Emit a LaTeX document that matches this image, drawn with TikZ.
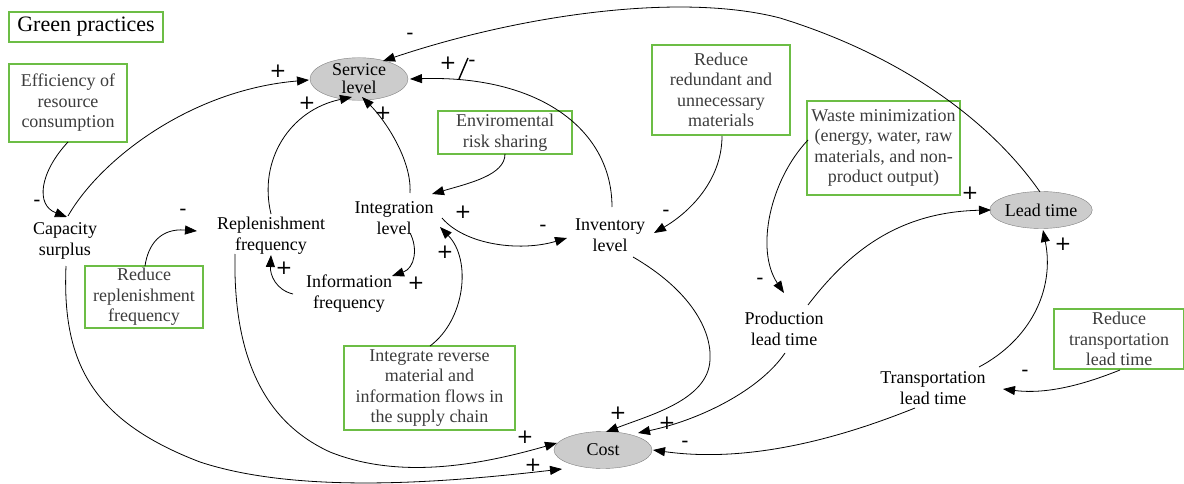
\documentclass[tikz,border=0pt]{standalone}
\usepackage{fontspec}
\setmainfont{Liberation Serif}
\newfontfamily\signfont{DejaVu Sans}
\usetikzlibrary{arrows.meta,shapes.geometric}
\definecolor{gboxc}{RGB}{108,189,69}
\definecolor{ellfill}{RGB}{204,204,204}
\definecolor{boxtext}{RGB}{60,60,60}
\tikzset{
  txt/.style={align=center,inner sep=0pt,font=\fontsize{18}{21}\selectfont},
  gbox/.style={draw=gboxc,line width=2.2pt,fill=white,align=center,inner sep=0pt,text=boxtext,font=\fontsize{18}{20.5}\selectfont},
  ell/.style={ellipse,draw=gray,fill=ellfill,inner sep=0pt,minimum width=98pt,minimum height=37pt,align=center,font=\fontsize{18}{21}\selectfont},
  link/.style={draw=black,line width=0.8pt,-{Triangle[length=12pt,width=9pt]}},
  sgn/.style={inner sep=0pt,font=\signfont\fontsize{20}{20}\selectfont}
}
\begin{document}
\begin{tikzpicture}[x=1pt,y=-1pt]
\useasboundingbox (0,0) rectangle (1184,484);
% boxes
\node[gbox,minimum width=154pt,minimum height=30pt,text=black,font=\fontsize{22}{22}\selectfont] (gp) at (86,27) {Green practices};
\node[gbox,minimum width=118pt,minimum height=78pt] (eff) at (68,103) {Efficiency of\\resource\\consumption};
\node[gbox,minimum width=118pt,minimum height=62pt] (rrep) at (144,297) {Reduce\\replenishment\\frequency};
\node[gbox,minimum width=134pt,minimum height=43pt] (env) at (505,132.5) {Enviromental\\risk sharing};
\node[gbox,minimum width=138pt,minimum height=90pt] (rred) at (721,90) {Reduce\\redundant and\\unnecessary\\materials};
\node[gbox,minimum width=153pt,minimum height=94pt] (waste) at (883.5,148) {Waste minimization\\(energy, water, raw\\materials, and non-\\product output)};
\node[gbox,minimum width=130pt,minimum height=60pt] (rtrans) at (1119,339) {Reduce\\transportation\\lead time};
\node[gbox,minimum width=171pt,minimum height=84pt] (irev) at (429.5,388) {Integrate reverse\\material and\\information flows in\\the supply chain};
% ellipses
\node[ell] (sl) at (359,79) {Service\\[-3pt]level};
\node[ell] (lt) at (1041,210) {Lead time};
\node[ell] (cost) at (603,450) {Cost};
% variables
\node[txt] (cap) at (65,241) {Capacity\\surplus};
\node[txt] (repf) at (271,236) {Replenishment\\frequency};
\node[txt] (intl) at (394,218) {Integration\\level};
\node[txt] (inff) at (349,294) {Information\\frequency};
\node[txt] (invl) at (610,235) {Inventory\\level};
\node[txt] (prodlt) at (784,329) {Production\\lead time};
\node[txt] (translt) at (933,388) {Transportation\\lead time};
% named end points
\coordinate (effS) at (68,142);
\coordinate (capT) at (67,217);
\coordinate (capT2) at (68,216);
\coordinate (capB) at (66,266);
\coordinate (slL) at (309,80);
\coordinate (slB1) at (352,97);
\coordinate (slB2) at (362,97);
\coordinate (slR) at (410,79);
\coordinate (slT) at (383,61);
\coordinate (rrepT) at (145,266);
\coordinate (repfL) at (197,231);
\coordinate (repfT) at (271,214);
\coordinate (repfB) at (235,254);
\coordinate (repfB2) at (271,255);
\coordinate (intlT) at (410,193);
\coordinate (intlR) at (432,194);
\coordinate (intlR2) at (442,218);
\coordinate (intlB) at (410,233);
\coordinate (intlB2) at (440,227);
\coordinate (envB) at (505,154);
\coordinate (invlL) at (567,238);
\coordinate (invlR) at (654,233);
\coordinate (invlT) at (612,207);
\coordinate (invlB) at (633,257);
\coordinate (inffR) at (392,276);
\coordinate (inffL) at (293,294);
\coordinate (irevT) at (430,346);
\coordinate (rredB) at (722,136);
\coordinate (ltT) at (1040,192);
\coordinate (ltL) at (991,210);
\coordinate (ltB) at (1043,230);
\coordinate (wasteL) at (808,140);
\coordinate (prodT) at (784,293);
\coordinate (prodR) at (808,305);
\coordinate (prodB) at (785,353);
\coordinate (transR) at (979,367);
\coordinate (transR2) at (1003,389);
\coordinate (transB) at (915,408);
\coordinate (rtransB) at (1120,370);
\coordinate (costL) at (557,443);
\coordinate (costBL) at (562,469);
\coordinate (costT) at (606,432);
\coordinate (costTR) at (638,433);
\coordinate (costR) at (653,450);
% links
\draw[link] (effS) .. controls (40,172) and (35,205) .. (capT);
\draw[link] (capT2) .. controls (100,160) and (190,90) .. (slL);
\draw[link] (rrepT) .. controls (148,245) and (160,228) .. (repfL);
\draw[link] (repfT) .. controls (258,160) and (290,110) .. (slB1);
\draw[link] (intlT) .. controls (412,160) and (385,120) .. (slB2);
\draw[link] (envB) .. controls (505,175) and (470,183) .. (intlR);
\draw[link] (intlR2) .. controls (465,245) and (520,252) .. (invlL);
\draw[link] (intlB) .. controls (418,248) and (415,268) .. (inffR);
\draw[link] (inffL) .. controls (276,290) and (270,275) .. (repfB2);
\draw[link] (irevT) .. controls (465,320) and (472,260) .. (intlB2);
\draw[link] (invlT) .. controls (612,130) and (540,75) .. (slR);
\draw[link] (rredB) .. controls (722,180) and (690,212) .. (invlR);
\draw[link] (ltT) .. controls (990,120) and (900,55) .. (780,18) .. controls (680,-8) and (520,15) .. (slT);
\draw[link] (wasteL) .. controls (770,180) and (755,250) .. (prodT);
\draw[link] (prodR) .. controls (850,250) and (900,212) .. (ltL);
\draw[link] (transR) .. controls (1030,340) and (1055,290) .. (ltB);
\draw[link] (rtransB) .. controls (1090,382) and (1050,395) .. (transR2);
\draw[link] (capB) .. controls (62,360) and (90,420) .. (200,462) .. controls (300,495) and (450,482) .. (costBL);
\draw[link] (repfB) .. controls (233,350) and (260,420) .. (330,452) .. controls (400,480) and (480,465) .. (costL);
\draw[link] (invlB) .. controls (690,290) and (712,330) .. (710,360) .. controls (708,400) and (650,415) .. (costT);
\draw[link] (prodB) .. controls (760,390) and (700,420) .. (costTR);
\draw[link] (transB) .. controls (860,430) and (760,465) .. (costR);
% signs
\node[sgn] (s1) at (37,203) {-};
\node[sgn] (s2) at (278,71) {+};
\node[sgn] (s3) at (183,212) {-};
\node[sgn] (s4) at (307,103) {+};
\node[sgn] (s5) at (383,113) {+};
\node[sgn] (s6) at (463,212) {+};
\node[sgn] (s7) at (543,228) {-};
\node[sgn] (s8) at (416,283) {+};
\node[sgn] (s9) at (284,268) {+};
\node[sgn] (s10) at (445,252) {+};
\node[sgn] (s11a) at (448,63) {+};
\node[sgn] (s11b) at (472,63) {-};
\draw[line width=1.4pt] (459,79) -- (468,58);
\node[sgn] (s12) at (666,213) {-};
\node[sgn] (s13) at (410,36) {-};
\node[sgn] (s14) at (760,281) {-};
\node[sgn] (s15) at (970,193) {+};
\node[sgn] (s16) at (1063,244) {+};
\node[sgn] (s17) at (1025,373) {-};
\node[sgn] (s18) at (533,465) {+};
\node[sgn] (s19) at (525,437) {+};
\node[sgn] (s20) at (618,413) {+};
\node[sgn] (s21) at (667,423) {+};
\node[sgn] (s22) at (685,444) {-};
\end{tikzpicture}
\end{document}
